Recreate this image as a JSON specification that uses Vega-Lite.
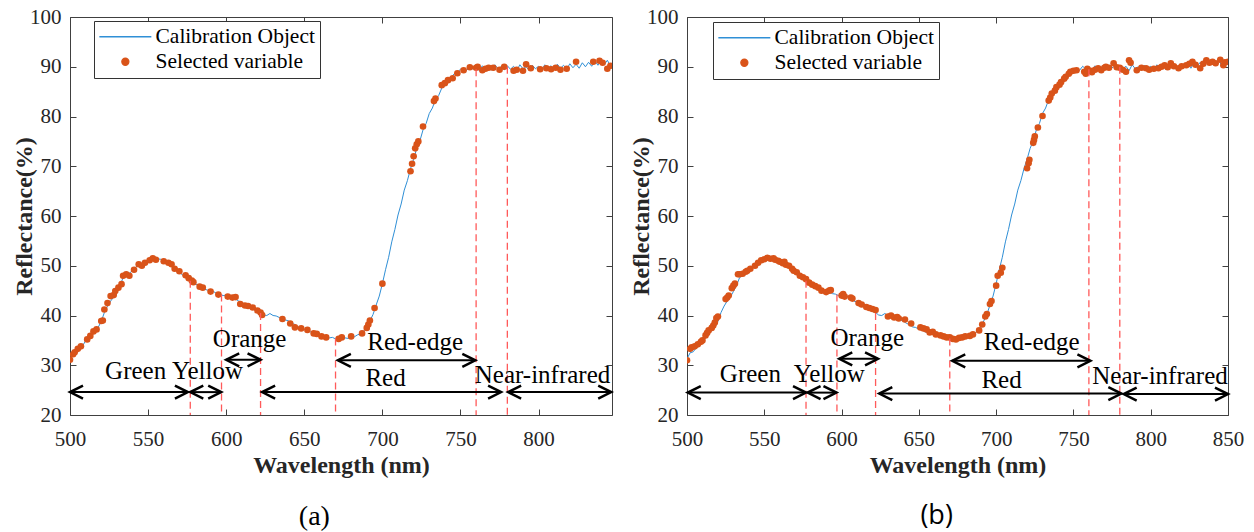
{
  "$schema": "https://vega.github.io/schema/vega-lite/v6.json",
  "padding": {"left": 12, "top": 6, "right": 5, "bottom": 0},
  "spacing": 12,
  "datasets": {
    "spectrum": [
      {"w":500,"r":31.3},{"w":502,"r":32.5},{"w":504,"r":32.7},{"w":506,"r":33.5},{"w":508,"r":33.9},{"w":510,"r":34.9},{"w":512,"r":35.4},{"w":514,"r":36.2},{"w":516,"r":37.0},{"w":518,"r":37.6},
      {"w":520,"r":38.8},{"w":522,"r":40.6},{"w":524,"r":41.9},{"w":526,"r":42.9},{"w":528,"r":43.7},{"w":530,"r":44.8},{"w":532,"r":46.0},{"w":534,"r":47.6},{"w":536,"r":48.1},{"w":538,"r":48.5},
      {"w":540,"r":49.0},{"w":542,"r":49.7},{"w":544,"r":50.2},{"w":546,"r":50.4},{"w":548,"r":50.9},{"w":550,"r":51.2},{"w":552,"r":51.5},{"w":554,"r":51.7},{"w":556,"r":51.4},{"w":558,"r":51.3},
      {"w":560,"r":50.8},{"w":562,"r":50.6},{"w":564,"r":50.2},{"w":566,"r":49.6},{"w":568,"r":49.1},{"w":570,"r":48.6},{"w":572,"r":48.2},{"w":574,"r":47.7},{"w":576,"r":47.3},{"w":578,"r":46.8},
      {"w":580,"r":46.4},{"w":582,"r":46.0},{"w":584,"r":45.8},{"w":586,"r":45.3},{"w":588,"r":45.1},{"w":590,"r":44.8},{"w":592,"r":44.8},{"w":594,"r":44.4},{"w":596,"r":44.3},{"w":598,"r":44.0},
      {"w":600,"r":44.1},{"w":602,"r":43.8},{"w":604,"r":43.8},{"w":606,"r":43.3},{"w":608,"r":42.9},{"w":610,"r":42.7},{"w":612,"r":42.1},{"w":614,"r":42.0},{"w":616,"r":41.5},{"w":618,"r":41.3},
      {"w":620,"r":40.8},{"w":622,"r":40.6},{"w":624,"r":40.1},{"w":626,"r":40.0},{"w":628,"r":40.4},{"w":630,"r":40.0},{"w":632,"r":39.9},{"w":634,"r":39.6},{"w":636,"r":39.5},{"w":638,"r":39.1},
      {"w":640,"r":38.9},{"w":642,"r":38.4},{"w":644,"r":38.2},{"w":646,"r":37.7},{"w":648,"r":37.6},{"w":650,"r":37.2},{"w":652,"r":37.1},{"w":654,"r":36.7},{"w":656,"r":36.6},{"w":658,"r":36.3},
      {"w":660,"r":36.2},{"w":662,"r":35.9},{"w":664,"r":35.8},{"w":666,"r":35.5},{"w":668,"r":35.6},{"w":670,"r":35.3},{"w":672,"r":35.4},{"w":674,"r":35.2},{"w":676,"r":35.5},{"w":678,"r":35.4},
      {"w":680,"r":35.7},{"w":682,"r":35.7},{"w":684,"r":36.1},{"w":686,"r":36.3},{"w":688,"r":36.9},{"w":690,"r":37.5},{"w":692,"r":38.9},{"w":694,"r":40.2},{"w":696,"r":42.1},{"w":698,"r":43.9},
      {"w":700,"r":46.4},{"w":702,"r":49.2},{"w":704,"r":51.7},{"w":706,"r":54.8},{"w":708,"r":57.3},{"w":710,"r":60.2},{"w":712,"r":62.4},{"w":714,"r":65.2},{"w":716,"r":67.1},{"w":718,"r":69.5},
      {"w":720,"r":71.4},{"w":722,"r":73.6},{"w":724,"r":75.1},{"w":726,"r":77.3},{"w":728,"r":78.6},{"w":730,"r":80.6},{"w":732,"r":81.7},{"w":734,"r":83.4},{"w":736,"r":84.2},{"w":738,"r":85.7},
      {"w":740,"r":86.3},{"w":742,"r":87.4},{"w":744,"r":87.8},{"w":746,"r":88.6},{"w":748,"r":88.9},{"w":750,"r":89.5},{"w":752,"r":89.6},{"w":754,"r":89.3},{"w":756,"r":90.1},{"w":758,"r":89.5},
      {"w":760,"r":89.9},{"w":762,"r":89.2},{"w":764,"r":90.2},{"w":766,"r":89.5},{"w":768,"r":90.0},{"w":770,"r":89.3},{"w":772,"r":90.4},{"w":774,"r":89.6},{"w":776,"r":90.0},{"w":778,"r":89.4},
      {"w":780,"r":90.2},{"w":782,"r":89.5},{"w":784,"r":90.1},{"w":786,"r":89.2},{"w":788,"r":90.4},{"w":790,"r":89.6},{"w":792,"r":90.0},{"w":794,"r":89.3},{"w":796,"r":90.3},{"w":798,"r":89.6},
      {"w":800,"r":90.1},{"w":802,"r":89.4},{"w":804,"r":90.4},{"w":806,"r":89.7},{"w":808,"r":90.2},{"w":810,"r":89.4},{"w":812,"r":90.5},{"w":814,"r":89.7},{"w":816,"r":90.3},{"w":818,"r":89.5},
      {"w":820,"r":90.6},{"w":822,"r":89.8},{"w":824,"r":90.5},{"w":826,"r":89.7},{"w":828,"r":90.8},{"w":830,"r":90.0},{"w":832,"r":90.9},{"w":834,"r":90.1},{"w":836,"r":91.2},{"w":838,"r":90.3},
      {"w":840,"r":91.4},{"w":842,"r":90.4},{"w":844,"r":91.3},{"w":846,"r":90.2},{"w":848,"r":91.1},{"w":850,"r":90.3}
    ],
    "selA": [
      {"w":500,"r":31.1},{"w":502,"r":32.2},{"w":503,"r":32.6},{"w":505,"r":33.3},{"w":507,"r":33.8},{"w":511,"r":35.2},{"w":513,"r":35.9},{"w":515,"r":36.8},{"w":517,"r":37.2},{"w":520,"r":38.9},
      {"w":521,"r":39.0},{"w":522,"r":41.2},{"w":524,"r":42.5},{"w":526,"r":43.9},{"w":528,"r":44.1},{"w":529,"r":44.9},{"w":531,"r":45.6},{"w":533,"r":46.3},{"w":534,"r":48.0},{"w":536,"r":48.3},
      {"w":538,"r":48.0},{"w":541,"r":49.2},{"w":544,"r":50.3},{"w":546,"r":50.0},{"w":548,"r":50.6},{"w":551,"r":51.1},{"w":553,"r":51.5},{"w":555,"r":51.2},{"w":560,"r":50.9},{"w":563,"r":50.6},
      {"w":565,"r":50.3},{"w":567,"r":49.4},{"w":570,"r":48.9},{"w":574,"r":48.1},{"w":576,"r":47.5},{"w":578,"r":47.0},{"w":579,"r":46.7},{"w":583,"r":45.8},{"w":585,"r":45.6},{"w":590,"r":44.8},
      {"w":595,"r":44.2},{"w":601,"r":43.8},{"w":604,"r":43.6},{"w":606,"r":43.7},{"w":609,"r":42.3},{"w":612,"r":42.0},{"w":614,"r":41.9},{"w":617,"r":41.6},{"w":620,"r":41.0},{"w":622,"r":40.6},
      {"w":623,"r":40.1},{"w":636,"r":39.3},{"w":641,"r":38.4},{"w":644,"r":37.6},{"w":648,"r":37.4},{"w":652,"r":37.1},{"w":656,"r":36.4},{"w":658,"r":36.3},{"w":661,"r":35.8},{"w":664,"r":35.6},
      {"w":672,"r":35.3},{"w":674,"r":35.6},{"w":680,"r":35.8},{"w":687,"r":36.4},{"w":690,"r":37.5},{"w":691,"r":38.2},{"w":692,"r":39.0},{"w":695,"r":41.5},{"w":700,"r":46.4},{"w":718,"r":69.0},
      {"w":719,"r":70.5},{"w":720,"r":72.0},{"w":721,"r":73.6},{"w":722,"r":74.4},{"w":723,"r":75.0},{"w":726,"r":78.0},{"w":733,"r":83.1},{"w":734,"r":83.6},{"w":738,"r":86.3},{"w":740,"r":86.7},
      {"w":742,"r":87.3},{"w":745,"r":87.7},{"w":748,"r":88.7},{"w":752,"r":89.3},{"w":756,"r":89.9},{"w":760,"r":89.8},{"w":761,"r":90.0},{"w":764,"r":89.3},{"w":766,"r":89.6},{"w":768,"r":89.8},
      {"w":771,"r":89.8},{"w":775,"r":89.4},{"w":778,"r":90.0},{"w":784,"r":89.2},{"w":786,"r":89.4},{"w":790,"r":89.2},{"w":792,"r":90.5},{"w":795,"r":89.7},{"w":801,"r":89.5},{"w":805,"r":89.7},
      {"w":808,"r":89.5},{"w":811,"r":89.8},{"w":814,"r":89.4},{"w":818,"r":89.6},{"w":824,"r":91.0},{"w":835,"r":91.0},{"w":839,"r":91.2},{"w":841,"r":90.8},{"w":844,"r":89.6},{"w":846,"r":90.2}
    ],
    "selB": [
      {"w":500,"r":31.0},{"w":502,"r":33.3},{"w":503,"r":33.6},{"w":505,"r":33.8},{"w":507,"r":34.2},{"w":509,"r":34.7},{"w":510,"r":35.0},{"w":512,"r":36.0},{"w":513,"r":36.5},{"w":514,"r":37.0},
      {"w":516,"r":37.5},{"w":517,"r":38.0},{"w":518,"r":38.6},{"w":519,"r":39.5},{"w":520,"r":39.8},{"w":525,"r":43.3},{"w":526,"r":43.6},{"w":527,"r":44.0},{"w":529,"r":45.5},{"w":530,"r":46.0},
      {"w":531,"r":46.4},{"w":533,"r":48.3},{"w":534,"r":48.3},{"w":536,"r":48.4},{"w":538,"r":48.8},{"w":539,"r":49.0},{"w":541,"r":49.4},{"w":544,"r":50.0},{"w":546,"r":50.6},{"w":548,"r":51.1},
      {"w":550,"r":51.3},{"w":552,"r":51.6},{"w":554,"r":51.4},{"w":556,"r":51.5},{"w":557,"r":51.2},{"w":559,"r":51.0},{"w":560,"r":50.8},{"w":562,"r":50.5},{"w":563,"r":50.8},{"w":564,"r":50.2},
      {"w":566,"r":50.0},{"w":568,"r":49.4},{"w":569,"r":49.0},{"w":571,"r":48.7},{"w":573,"r":48.0},{"w":575,"r":47.7},{"w":577,"r":47.3},{"w":579,"r":46.6},{"w":581,"r":46.2},{"w":583,"r":45.9},
      {"w":585,"r":45.6},{"w":587,"r":45.0},{"w":590,"r":44.7},{"w":592,"r":45.0},{"w":593,"r":45.1},{"w":600,"r":44.0},{"w":601,"r":44.3},{"w":602,"r":43.8},{"w":606,"r":43.6},{"w":607,"r":43.4},
      {"w":611,"r":42.5},{"w":613,"r":42.2},{"w":616,"r":41.7},{"w":618,"r":41.5},{"w":620,"r":41.3},{"w":622,"r":41.1},{"w":630,"r":39.8},{"w":632,"r":40.0},{"w":634,"r":39.6},{"w":636,"r":39.7},
      {"w":637,"r":39.4},{"w":641,"r":39.2},{"w":645,"r":38.4},{"w":651,"r":37.6},{"w":653,"r":37.4},{"w":655,"r":37.2},{"w":657,"r":36.6},{"w":659,"r":36.7},{"w":661,"r":36.2},{"w":664,"r":36.0},
      {"w":666,"r":35.8},{"w":668,"r":35.6},{"w":670,"r":35.6},{"w":672,"r":35.3},{"w":674,"r":35.2},{"w":676,"r":35.5},{"w":678,"r":35.6},{"w":680,"r":35.8},{"w":683,"r":35.9},{"w":685,"r":36.2},
      {"w":689,"r":37.0},{"w":691,"r":38.2},{"w":693,"r":39.8},{"w":694,"r":40.3},{"w":696,"r":42.3},{"w":697,"r":42.9},{"w":700,"r":46.0},{"w":701,"r":48.0},{"w":703,"r":48.6},{"w":704,"r":49.6},
      {"w":720,"r":69.6},{"w":721,"r":70.6},{"w":721.5,"r":71.3},{"w":724,"r":74.7},{"w":724.5,"r":75.3},{"w":725,"r":76.0},{"w":727,"r":77.8},{"w":730,"r":80.1},{"w":734,"r":83.2},{"w":735,"r":83.8},
      {"w":736,"r":84.6},{"w":738,"r":85.2},{"w":739,"r":85.9},{"w":741,"r":86.4},{"w":742,"r":86.9},{"w":744,"r":87.6},{"w":745,"r":88.0},{"w":747,"r":88.6},{"w":748,"r":89.0},{"w":750,"r":89.2},
      {"w":752,"r":89.3},{"w":757,"r":89.0},{"w":758,"r":88.6},{"w":759,"r":89.6},{"w":761,"r":89.2},{"w":762,"r":88.9},{"w":764,"r":89.4},{"w":766,"r":89.7},{"w":768,"r":89.3},{"w":770,"r":89.8},
      {"w":771,"r":90.0},{"w":773,"r":89.8},{"w":776,"r":90.7},{"w":778,"r":89.9},{"w":780,"r":89.8},{"w":782,"r":89.4},{"w":784,"r":89.0},{"w":786,"r":91.3},{"w":787,"r":90.8},{"w":791,"r":89.3},
      {"w":794,"r":89.8},{"w":797,"r":89.7},{"w":799,"r":89.4},{"w":802,"r":89.6},{"w":805,"r":89.7},{"w":807,"r":90.0},{"w":809,"r":90.3},{"w":811,"r":89.9},{"w":813,"r":90.7},{"w":815,"r":90.1},
      {"w":818,"r":89.7},{"w":820,"r":90.1},{"w":823,"r":90.3},{"w":825,"r":90.6},{"w":827,"r":91.0},{"w":829,"r":90.4},{"w":832,"r":89.7},{"w":834,"r":90.6},{"w":836,"r":91.3},{"w":838,"r":90.8},
      {"w":840,"r":91.0},{"w":842,"r":90.7},{"w":845,"r":91.4},{"w":847,"r":90.3},{"w":848,"r":90.9},{"w":850,"r":91.0}
    ],
    "bounds": [
      {"w":577,"top":47.0},{"w":597,"top":44.2},{"w":622,"top":40.5},{"w":670,"top":35.4},{"w":760,"top":89.5},{"w":780,"top":90.0}
    ],
    "arrowsA": [
      {"from":500,"to":575.5,"y":24.6},{"from":577,"to":596.8,"y":24.6},{"from":600,"to":622,"y":31.1},
      {"from":671.5,"to":759.5,"y":31.0},{"from":623,"to":776,"y":24.6},{"from":780.5,"to":846.5,"y":24.6}
    ],
    "arrowsB": [
      {"from":500.5,"to":577,"y":24.5},{"from":578,"to":596.7,"y":24.5},{"from":598.5,"to":623.6,"y":31.3},
      {"from":671.6,"to":761,"y":30.9},{"from":624.4,"to":781,"y":24.3},{"from":782.5,"to":850,"y":24.2}
    ],
    "labelsA": [
      {"t":"Green","x":542,"y":28.8},{"t":"Yellow","x":588,"y":28.8},{"t":"Orange","x":615,"y":35.3},
      {"t":"Red-edge","x":721,"y":34.6},{"t":"Red","x":702,"y":27.5},{"t":"Near-infrared","x":802.5,"y":28.1}
    ],
    "labelsB": [
      {"t":"Green","x":541,"y":28.2},{"t":"Yellow","x":592,"y":28.2},{"t":"Orange","x":616.6,"y":35.5},
      {"t":"Red-edge","x":723,"y":34.7},{"t":"Red","x":703.5,"y":27.1},{"t":"Near-infrared","x":806,"y":27.8}
    ]
  },
  "resolve": {"scale": {"color": "independent"}},
  "hconcat": [
    {
      "width": 542,
      "height": 398,
      "title": {"text": "(a)", "orient": "bottom", "font": "Liberation Serif", "fontSize": 28, "fontWeight": "normal", "color": "#000000", "offset": 26, "frame": "bounds", "anchor": "middle"},
      "layer": [
        {
          "layer": [
            {
              "data": {"name": "spectrum"},
              "mark": {"type": "line", "strokeWidth": 1, "clip": true},
              "encoding": {
                "x": {"field": "w", "type": "quantitative", "scale": {"domain": [500, 847], "nice": false, "zero": false}, "axis": {"values": [500, 550, 600, 650, 700, 750, 800], "title": "Wavelength (nm)"}},
                "y": {"field": "r", "type": "quantitative", "scale": {"domain": [20, 100], "nice": false, "zero": false}, "axis": {"values": [20, 30, 40, 50, 60, 70, 80, 90, 100], "title": "Reflectance(%)"}},
                "color": {
                  "datum": "Calibration Object", "type": "nominal",
                  "scale": {"domain": ["Calibration Object", "Selected variable"], "range": ["#2f8fd6", "#d95319"]},
                  "legend": {
                    "title": null, "orient": "none", "legendX": 24, "legendY": 4,
                    "symbolSize": 169, "labelOffset": 35, "padding": 5, "rowPadding": 2,
                    "strokeColor": "#333333", "fillColor": "#ffffff",
                    "labelFont": "Liberation Serif", "labelFontSize": 21.5, "labelColor": "#000000", "labelLimit": 400,
                    "labelExpr": "datum.label + '\u00a0\u00a0\u00a0'",
                    "encode": {"symbols": {"update": {
                      "shape": [{"test": "datum.value === 'Calibration Object'", "value": "M-1.6,0H6.4"}, {"value": "M2.94,0A0.54,0.54,0,1,1,1.86,0A0.54,0.54,0,1,1,2.94,0Z"}],
                      "stroke": [{"test": "datum.value === 'Calibration Object'", "value": "#2f8fd6"}, {"value": "transparent"}],
                      "fill": [{"test": "datum.value === 'Calibration Object'", "value": "transparent"}, {"value": "#d95319"}],
                      "strokeWidth": {"value": 1.3},
                      "opacity": {"value": 1}
                    }}}
                  }
                }
              }
            },
            {
              "data": {"name": "selA"},
              "mark": {"type": "point", "filled": true, "size": 44, "opacity": 1, "clip": true},
              "encoding": {
                "x": {"field": "w", "type": "quantitative"},
                "y": {"field": "r", "type": "quantitative"},
                "color": {"datum": "Selected variable", "type": "nominal"}
              }
            },
            {
              "data": {"name": "bounds"},
              "mark": {"type": "rule", "color": "#ff5a5a", "strokeDash": [7, 4], "strokeWidth": 1.3},
              "encoding": {
                "x": {"field": "w", "type": "quantitative"},
                "y": {"field": "top", "type": "quantitative"},
                "y2": {"datum": 20}
              }
            },
            {
              "data": {"name": "arrowsA"},
              "mark": {"type": "rule", "color": "#000000", "strokeWidth": 2},
              "encoding": {
                "x": {"field": "from", "type": "quantitative"},
                "x2": {"field": "to"},
                "y": {"field": "y", "type": "quantitative"}
              }
            },
            {
              "data": {"name": "arrowsA"},
              "transform": [{"fold": ["from", "to"], "as": ["end", "xe"]}],
              "mark": {"type": "point", "filled": false, "color": "#000000", "strokeWidth": 2.5, "size": 676, "opacity": 1},
              "encoding": {
                "x": {"field": "xe", "type": "quantitative"},
                "y": {"field": "y", "type": "quantitative"},
                "shape": {"field": "end", "type": "nominal", "scale": {"domain": ["from", "to"], "range": ["M1,-0.5L0,0L1,0.5", "M-1,-0.5L0,0L-1,0.5"]}, "legend": null}
              }
            },
            {
              "data": {"name": "labelsA"},
              "mark": {"type": "text", "font": "Liberation Serif", "fontSize": 25, "color": "#000000", "align": "center", "baseline": "middle"},
              "encoding": {
                "x": {"field": "x", "type": "quantitative"},
                "y": {"field": "y", "type": "quantitative"},
                "text": {"field": "t", "type": "nominal"}
              }
            }
          ]
        },
        {
          "data": {"name": "spectrum"},
          "mark": {"type": "point", "opacity": 0, "clip": true},
          "encoding": {
            "x": {"field": "w", "type": "quantitative", "axis": {"orient": "top", "labels": false, "title": null, "values": [500, 550, 600, 650, 700, 750, 800]}},
            "y": {"field": "r", "type": "quantitative", "axis": {"orient": "right", "labels": false, "title": null, "values": [20, 30, 40, 50, 60, 70, 80, 90, 100]}}
          }
        }
      ],
      "resolve": {"axis": {"x": "independent", "y": "independent"}}
    },
    {
      "width": 541,
      "height": 398,
      "title": {"text": "(b)", "orient": "bottom", "font": "Open Sans", "fontSize": 27, "fontWeight": "normal", "color": "#000000", "offset": 26, "frame": "bounds", "anchor": "middle"},
      "layer": [
        {
          "layer": [
            {
              "data": {"name": "spectrum"},
              "mark": {"type": "line", "strokeWidth": 1, "clip": true},
              "encoding": {
                "x": {"field": "w", "type": "quantitative", "scale": {"domain": [500, 850], "nice": false, "zero": false}, "axis": {"values": [500, 550, 600, 650, 700, 750, 800, 850], "title": "Wavelength (nm)"}},
                "y": {"field": "r", "type": "quantitative", "scale": {"domain": [20, 100], "nice": false, "zero": false}, "axis": {"values": [20, 30, 40, 50, 60, 70, 80, 90, 100], "title": "Reflectance(%)"}},
                "color": {
                  "datum": "Calibration Object", "type": "nominal",
                  "scale": {"domain": ["Calibration Object", "Selected variable"], "range": ["#2f8fd6", "#d95319"]},
                  "legend": {
                    "title": null, "orient": "none", "legendX": 26, "legendY": 5,
                    "symbolSize": 169, "labelOffset": 35, "padding": 5, "rowPadding": 2,
                    "strokeColor": "#333333", "fillColor": "#ffffff",
                    "labelFont": "Liberation Serif", "labelFontSize": 21.5, "labelColor": "#000000", "labelLimit": 400,
                    "labelExpr": "datum.label + '\u00a0'",
                    "encode": {"symbols": {"update": {
                      "shape": [{"test": "datum.value === 'Calibration Object'", "value": "M-1.6,0H6.4"}, {"value": "M2.94,0A0.54,0.54,0,1,1,1.86,0A0.54,0.54,0,1,1,2.94,0Z"}],
                      "stroke": [{"test": "datum.value === 'Calibration Object'", "value": "#2f8fd6"}, {"value": "transparent"}],
                      "fill": [{"test": "datum.value === 'Calibration Object'", "value": "transparent"}, {"value": "#d95319"}],
                      "strokeWidth": {"value": 1.3},
                      "opacity": {"value": 1}
                    }}}
                  }
                }
              }
            },
            {
              "data": {"name": "selB"},
              "mark": {"type": "point", "filled": true, "size": 44, "opacity": 1, "clip": true},
              "encoding": {
                "x": {"field": "w", "type": "quantitative"},
                "y": {"field": "r", "type": "quantitative"},
                "color": {"datum": "Selected variable", "type": "nominal"}
              }
            },
            {
              "data": {"name": "bounds"},
              "mark": {"type": "rule", "color": "#ff5a5a", "strokeDash": [7, 4], "strokeWidth": 1.3},
              "encoding": {
                "x": {"field": "w", "type": "quantitative"},
                "y": {"field": "top", "type": "quantitative"},
                "y2": {"datum": 20}
              }
            },
            {
              "data": {"name": "arrowsB"},
              "mark": {"type": "rule", "color": "#000000", "strokeWidth": 2},
              "encoding": {
                "x": {"field": "from", "type": "quantitative"},
                "x2": {"field": "to"},
                "y": {"field": "y", "type": "quantitative"}
              }
            },
            {
              "data": {"name": "arrowsB"},
              "transform": [{"fold": ["from", "to"], "as": ["end", "xe"]}],
              "mark": {"type": "point", "filled": false, "color": "#000000", "strokeWidth": 2.5, "size": 676, "opacity": 1},
              "encoding": {
                "x": {"field": "xe", "type": "quantitative"},
                "y": {"field": "y", "type": "quantitative"},
                "shape": {"field": "end", "type": "nominal", "scale": {"domain": ["from", "to"], "range": ["M1,-0.5L0,0L1,0.5", "M-1,-0.5L0,0L-1,0.5"]}, "legend": null}
              }
            },
            {
              "data": {"name": "labelsB"},
              "mark": {"type": "text", "font": "Liberation Serif", "fontSize": 25, "color": "#000000", "align": "center", "baseline": "middle"},
              "encoding": {
                "x": {"field": "x", "type": "quantitative"},
                "y": {"field": "y", "type": "quantitative"},
                "text": {"field": "t", "type": "nominal"}
              }
            }
          ]
        },
        {
          "data": {"name": "spectrum"},
          "mark": {"type": "point", "opacity": 0, "clip": true},
          "encoding": {
            "x": {"field": "w", "type": "quantitative", "axis": {"orient": "top", "labels": false, "title": null, "values": [500, 550, 600, 650, 700, 750, 800, 850]}},
            "y": {"field": "r", "type": "quantitative", "axis": {"orient": "right", "labels": false, "title": null, "values": [20, 30, 40, 50, 60, 70, 80, 90, 100]}}
          }
        }
      ],
      "resolve": {"axis": {"x": "independent", "y": "independent"}}
    }
  ],
  "config": {
    "view": {"stroke": null},
    "font": "Liberation Serif",
    "axis": {
      "grid": false, "domainColor": "#404040", "tickColor": "#404040", "tickSize": -6, "labelFlush": false,
      "labelFont": "Liberation Serif", "labelFontSize": 21, "labelColor": "#262626",
      "titleFont": "Liberation Serif", "titleFontSize": 24, "titleFontWeight": "bold", "titleColor": "#262626"
    },
    "axisX": {"labelPadding": 19, "titlePadding": 4},
    "axisY": {"labelPadding": 15, "titlePadding": -7}
  }
}
